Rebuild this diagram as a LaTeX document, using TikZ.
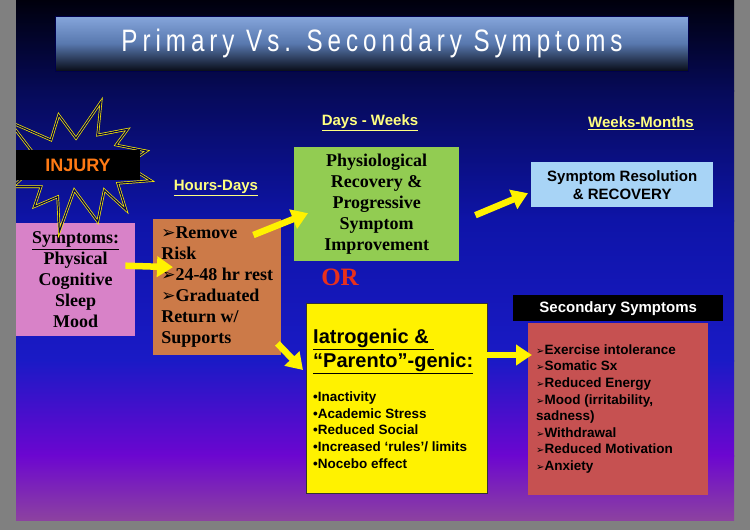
\documentclass[tikz,border=0pt]{standalone}
\usepackage{fontspec}
\setmainfont{Liberation Serif}
\setsansfont{Liberation Sans}
\newfontfamily\dingfont{DejaVu Sans}
\newfontfamily\titlefont[FakeStretch=0.78,LetterSpace=16]{Liberation Sans}
\usetikzlibrary{arrows.meta, calc}

\definecolor{pagegrey}{HTML}{808080}
\definecolor{bgA}{HTML}{00000C}
\definecolor{bgB}{HTML}{060A58}
\definecolor{bgC}{HTML}{0E14A8}
\definecolor{bgD}{HTML}{1A1AC6}
\definecolor{bgE}{HTML}{6C06D0}
\definecolor{bgF}{HTML}{8C42A0}
\definecolor{titletop}{HTML}{86A6DC}
\definecolor{titlemid}{HTML}{5878AE}
\definecolor{titlebot}{HTML}{080C18}
\definecolor{labelyellow}{HTML}{FFFF80}
\definecolor{pinkbox}{HTML}{D882C8}
\definecolor{orangebox}{HTML}{CC7A48}
\definecolor{greenbox}{HTML}{92CC52}
\definecolor{bluebox}{HTML}{A8D4F6}
\definecolor{redbox}{HTML}{C65151}
\definecolor{orred}{HTML}{E8301C}
\definecolor{injuryorange}{HTML}{FF7A14}

\newcommand{\tipbig}{{\dingfont\fontsize{17}{17}\selectfont ➢}}
\newcommand{\tipsmall}{{\dingfont\fontsize{10}{10}\selectfont ➢}}

\begin{document}
\begin{tikzpicture}[x=1pt, y=-1pt,
    box/.style={rectangle, inner sep=0pt, anchor=north west},
    serifbody/.style={font=\rmfamily\bfseries\fontsize{18}{21}\selectfont, text=black},
    sansbody/.style={font=\sffamily\bfseries\fontsize{13.5}{16.6}\selectfont, text=black},
    period/.style={font=\sffamily\bfseries\fontsize{15}{18}\selectfont, text=labelyellow},
    burstline/.style={draw=yellow, double=black!70!blue, double distance=1.2pt, line width=0.7pt, line join=miter},
    yarrow/.style={draw=yellow, line width=6.5pt, -{Triangle[length=16pt,width=20pt]}}
]

\useasboundingbox (0,0) rectangle (750,530);
\fill[pagegrey] (0,0) rectangle (750,530);

% Slide background
\shade[top color=bgA, bottom color=bgB] (16,0) rectangle (734,91);
\shade[top color=bgB, bottom color=bgC] (16,90) rectangle (734,221);
\shade[top color=bgC, bottom color=bgD] (16,220) rectangle (734,361);
\shade[top color=bgD, bottom color=bgE] (16,360) rectangle (734,456);
\shade[top color=bgE, bottom color=bgF] (16,455) rectangle (734,520);

% Title bar
\node[draw=black!70!blue, line width=0.6pt, minimum width=633, minimum height=55,
      top color=titletop, bottom color=titlebot, middle color=titlemid,
      text=white, font=\titlefont\fontsize{31}{31}\selectfont] (title) at (372,43.5)
      {Primary Vs. Secondary Symptoms};

% Time frames
\node[period] (hours) at (216,188) {\underline{Hours-Days}};
\node[period] (days) at (370,123) {\underline{Days - Weeks}};
\node[period] (weeks) at (641,123) {\underline{Weeks-Months}};

% Primary symptoms and early care
\node[box, fill=pinkbox, minimum width=119, minimum height=113, serifbody, align=center] (symp) at (16,223)
    {\underline{Symptoms:}\\Physical\\Cognitive\\Sleep\\Mood};
\node[box, fill=orangebox, minimum width=128, minimum height=136, serifbody, align=left] (act) at (153,219)
    {\tipbig Remove\\Risk\\\tipbig 24-48 hr rest\\\tipbig Graduated\\Return w/\\Supports};

% Recovery path
\node[box, fill=greenbox, minimum width=165, minimum height=114, serifbody, align=center] (recov) at (294,147)
    {Physiological\\Recovery \&\\Progressive\\Symptom\\Improvement};
\node[box, fill=bluebox, minimum width=182, minimum height=45, font=\sffamily\bfseries\fontsize{15}{18}\selectfont, align=center] (resol) at (531,162)
    {Symptom Resolution\\\& RECOVERY};

% OR
\node[font=\rmfamily\bfseries\fontsize{25}{25}\selectfont, text=orred] (or) at (340,277) {OR};

% Iatrogenic path
\node[box, fill=yellow, draw=black!80, minimum width=181, minimum height=190] (iatro) at (306,303) {};
\node[anchor=west, inner sep=0pt, font=\sffamily\bfseries\fontsize{20}{24}\selectfont, align=left] (iatrohead) at (313,351)
    {\underline{Iatrogenic \&~}\\\underline{“Parento”-genic:}};
\node[anchor=west, inner sep=0pt, sansbody, align=left] (causes) at (313,430)
    {•Inactivity\\•Academic Stress\\•Reduced Social\\•Increased ‘rules’/ limits\\•Nocebo effect};

% Secondary symptoms
\node[box, fill=black, minimum width=210, minimum height=26, text=white, font=\sffamily\bfseries\fontsize{15}{18}\selectfont] (sechead) at (513,295)
    {Secondary Symptoms};
\node[box, fill=redbox, minimum width=180, minimum height=172] (second) at (528,323) {};
\node[anchor=west, inner sep=0pt, sansbody, align=left] (seclist) at (536,409)
    {\tipsmall Exercise intolerance\\\tipsmall Somatic Sx\\\tipsmall Reduced Energy\\\tipsmall Mood (irritability,\\sadness)\\\tipsmall Withdrawal\\\tipsmall Reduced Motivation\\\tipsmall Anxiety};

% Injury burst
\begin{scope}
\clip (16,0) rectangle (734,520);
\draw[burstline] (101,101.7) -- (76,138.3) -- (58.7,115) -- (51,140) -- (9.3,121.7) -- (31,150)
    -- (9.3,161.7) -- (29.3,171.7) -- (12.7,186.7) -- (41,186.7) -- (34.3,206.7) -- (57.7,196.7)
    -- (59.3,231.7) -- (74.3,190) -- (97.7,221.7) -- (104.3,190) -- (126,210) -- (117.7,183.3)
    -- (151,180.7) -- (126,165) -- (146.7,151) -- (116,145) -- (127.7,129.3) -- (97.7,135) -- cycle;
\end{scope}
\node[fill=black, minimum width=124, minimum height=30, inner sep=0pt, text=injuryorange,
      font=\sffamily\bfseries\fontsize{18}{18}\selectfont] (injury) at (78,165) {INJURY};

% Arrows
\draw[yarrow] ($(symp.east)+(-10,-14)$) -- ($(act.west)+(20,-20)$);
\draw[yarrow] ($(act.north east)+(-28,16)$) -- ($(recov.west)+(14,9)$);
\draw[yarrow] ($(recov.east)+(16,11)$) -- ($(resol.west)+(-3,8.5)$);
\draw[yarrow] ($(act.south east)+(-4,-12)$) -- ($(iatro.north west)+(-3,67)$);
\draw[yarrow] ($(iatro.north east)+(0,52)$) -- ($(second.north west)+(4,32)$);

\end{tikzpicture}
\end{document}
